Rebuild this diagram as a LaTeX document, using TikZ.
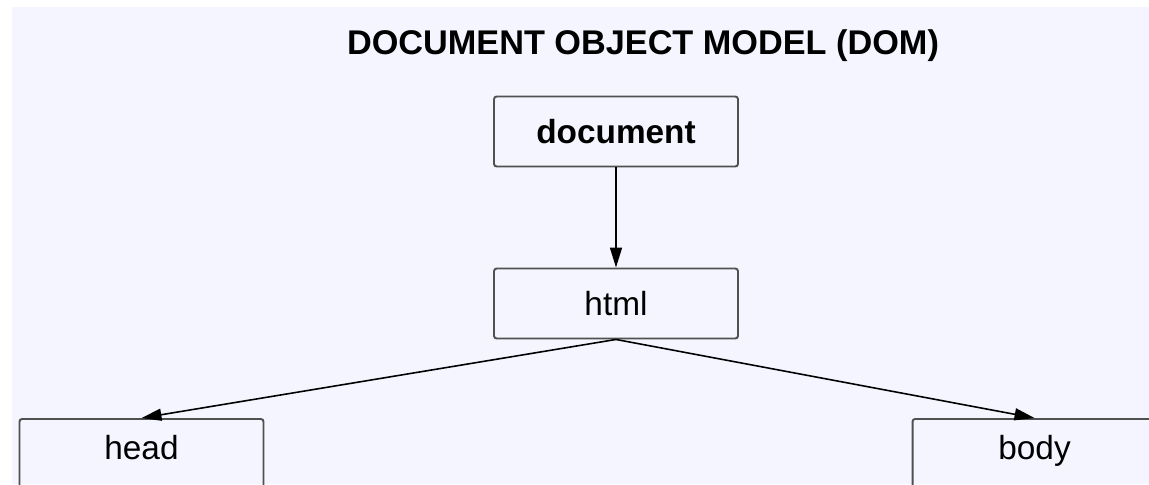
\documentclass[tikz,border=0pt]{standalone}
\usepackage{fontspec}
\setmainfont{Liberation Sans}
\usetikzlibrary{arrows.meta}
\usetikzlibrary{positioning}

\definecolor{pagebg}{RGB}{245,245,255}
\definecolor{boxline}{RGB}{80,80,80}

\begin{document}
\begin{tikzpicture}[x=0.02cm, y=-0.02cm,
    box/.style={draw=boxline, line width=1.1pt, rounded corners=1.5pt, minimum width=4.88cm, minimum height=1.4cm, font=\fontsize{19}{22}\selectfont},
    link/.style={-{Triangle[length=0.4cm, width=0.24cm]}, line width=0.9pt}]

    % Page and background
    \useasboundingbox (0,0) rectangle (1149,484);
    \clip (0,0) rectangle (1149,484);
    \fill[pagebg] (12,7) rectangle (1149,484);

    % Title
    \node[font=\fontsize{19.5}{23}\selectfont\bfseries] (title) at (643,46) {DOCUMENT OBJECT MODEL (DOM)};

    % Tree nodes
    \node[box, font=\fontsize{19}{22}\selectfont\bfseries] (document) at (616,131.5) {document};
    \node[box] (html) at (616,303.5) {html};
    \node[box, anchor=north, text depth=0.25cm] (head) at (141.5,418) {head};
    \node[box, anchor=north, text depth=0.25cm] (body) at (1034.5,418) {body};

    % Edges
    \draw[link] (document) -- (html);
    \draw[link] (html.south) -- (head.north);
    \draw[link] (html.south) -- (body.north);

\end{tikzpicture}
\end{document}
